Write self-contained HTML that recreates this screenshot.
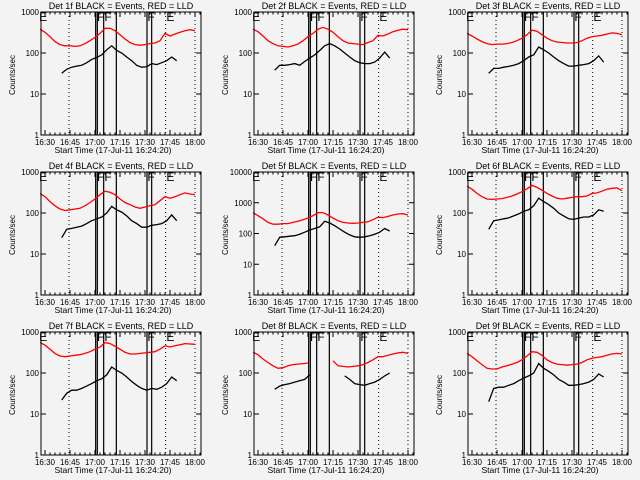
<!DOCTYPE html>
<html><head><meta charset="utf-8"><style>
body{margin:0;background:#f3f3f3;}
svg{display:block;font-family:"Liberation Sans",sans-serif;}
</style></head><body>
<svg id="chart" width="640" height="480" viewBox="0 0 640 480">
<rect width="640" height="480" fill="#f3f3f3"/>
</svg>
<script>
const tickLabels = ["16:30","16:45","17:00","17:15","17:30","17:45","18:00"];
const tickMinutes = [990,1005,1020,1035,1050,1065,1080];
const dottedMinutes = [1004.4,1062.4,1080];
const solidMinutes = [1020.4,1021.4,1025.2,1032.8,1051.2,1054];
const markTexts = ["E","F","F","F","E"];
const markMinutes = [986.5,1021.2,1025.6,1051.4,1062.8];
const redStart = 987, redStep = 3;
const blkStart = 1000, blkStep = 3;
const titles = ["Det 1f","Det 2f","Det 3f","Det 4f","Det 5f","Det 6f","Det 7f","Det 8f","Det 9f"];
const decades = [3,3,3,3,4,3,3,3,3];

const red1=[380,320,250,190,160,150,150,145,150,170,200,240,300,400,400,350,280,220,180,160,155,160,170,175,200,300,260,290,320,350,370,350];
const blk1=[32,40,45,48,50,58,70,78,90,120,150,115,100,80,65,50,45,46,55,52,58,65,80,65];
const red2=[380,330,260,200,170,150,145,140,150,165,200,250,300,380,420,380,320,250,200,175,170,165,160,180,200,270,260,290,330,360,380,370];
const blk2=[38,50,50,52,55,50,62,75,90,115,150,170,150,125,100,80,65,58,55,55,60,75,105,75];
const red3=[300,260,220,190,170,160,165,165,170,180,200,230,280,360,340,280,230,200,185,180,175,175,180,200,230,250,260,270,290,310,300,280];
const blk3=[32,42,42,45,47,50,55,65,80,90,140,120,100,80,65,55,48,48,50,52,55,65,85,60];
const red4=[300,250,190,150,125,115,120,125,130,150,180,220,280,340,320,280,220,180,160,140,130,140,150,160,200,250,230,250,280,310,290,280];
const blk4=[25,40,42,45,48,55,65,72,80,100,145,120,105,85,65,55,45,45,50,52,55,65,90,65];
const red5=[480,380,300,230,200,200,210,210,230,250,280,320,380,480,480,400,320,260,230,220,215,220,230,240,280,340,330,360,400,430,440,400];
const blk5=[40,75,78,82,85,95,110,130,145,165,250,220,180,140,110,90,78,75,78,85,95,110,145,120];
const red6=[450,380,300,250,220,215,220,225,240,260,290,330,390,470,420,360,300,260,230,220,230,240,250,250,260,300,310,340,380,400,410,350];
const blk6=[40,65,68,72,76,85,95,110,120,150,230,190,160,130,100,85,72,70,75,80,80,90,120,110];
const red7=[550,480,380,300,260,250,260,270,280,300,330,380,430,550,520,450,380,320,290,290,300,310,320,330,380,460,430,460,490,520,510,500];
const blk7=[22,32,38,38,42,48,55,65,72,90,140,115,100,80,62,50,42,38,42,40,45,55,80,65];
const red8=[320,280,220,180,150,130,135,150,160,165,170,175,null,null,null,null,200,150,145,140,145,150,160,180,210,250,250,270,290,310,320,300];
const blk8=[40,48,52,55,60,65,70,90,null,null,null,null,null,null,85,70,55,52,50,55,60,70,85,100];
const red9=[300,250,200,160,130,125,125,140,150,165,180,210,260,330,320,270,210,180,165,160,155,160,165,180,210,230,240,250,270,290,300,290];
const blk9=[20,42,45,45,50,55,65,75,85,100,170,130,110,90,70,60,50,50,52,55,60,70,95,80];
const reds=[red1,red2,red3,red4,red5,red6,red7,red8,red9];
const blks=[blk1,blk2,blk3,blk4,blk5,blk6,blk7,blk8,blk9];

const NS="http://www.w3.org/2000/svg";
const svg=document.getElementById('chart');
function mk(tag,attrs,parent){const e=document.createElementNS(NS,tag);for(const k in attrs)e.setAttribute(k,attrs[k]);(parent||svg).appendChild(e);return e;}

function drawPanel(p){
  const col=p%3,row=Math.floor(p/3);
  const ox=[0,213,427][col], oy=row*160;
  const L=ox+41,R=ox+201,T=oy+12,B=oy+135;
  const nd=decades[p];
  const xs=m=>ox+45+(m-990)*(150/90);
  const ys=v=>B-Math.log10(v)*(B-T)/nd;
  const g=mk('g',{});
  
  
  const t=mk('text',{x:(L+R)/2,y:oy+9,'font-size':'9','text-anchor':'middle',fill:'#000'},g);
  t.textContent=titles[p]+" BLACK = Events, RED = LLD";
  
  
  dottedMinutes.forEach(m=>{const l=mk('line',{x1:xs(m),x2:xs(m),y1:T,y2:B,stroke:'#000','stroke-width':1,'stroke-dasharray':'1,3'},g);
    
    });
  solidMinutes.forEach(m=>{const l=mk('line',{x1:xs(m),x2:xs(m),y1:T,y2:B,stroke:'#000','stroke-width':1.2},g);
    
    });
  markTexts.forEach((s,i)=>{const e=mk('text',{x:xs(markMinutes[i]),y:T+9,'font-size':'12',fill:'#000'},g);e.textContent=s;
    
    });
  function series(arr,start,step,color,name){
    let segs=[],cur=[];
    arr.forEach((v,i)=>{if(v==null){if(cur.length)segs.push(cur);cur=[];}else{const x=xs(start+i*step);cur.push(x.toFixed(1)+','+ys(v).toFixed(1));}});
    if(cur.length)segs.push(cur);
    segs.forEach(s=>{const pl=mk('polyline',{points:s.join(' '),fill:'none',stroke:color,'stroke-width':1.3},g);
      
      });
  }
  series(reds[p],redStart,redStep,'#ff0000','lld-series');
  series(blks[p],blkStart,blkStep,'#000000','events-series');
  const fr=mk('rect',{x:L,y:T,width:R-L,height:B-T,fill:'none',stroke:'#000','stroke-width':1},g);
  
  
  for(let m=987;m<=1083;m+=3){const x=xs(m);if(x<L||x>R)continue;const major=tickMinutes.includes(m);const len=major?5:2.5;
    mk('line',{x1:x,x2:x,y1:B,y2:B-len,stroke:'#000','stroke-width':1},g);mk('line',{x1:x,x2:x,y1:T,y2:T+len,stroke:'#000','stroke-width':1},g);}
  tickLabels.forEach((s,i)=>{const e=mk('text',{x:xs(tickMinutes[i]),y:B+10,'font-size':'8','text-anchor':'middle',fill:'#000'},g);e.textContent=s;
    
    });
  const xl=mk('text',{x:ox+113,y:B+18,'font-size':'8.5','text-anchor':'middle',fill:'#000'},g);
  xl.textContent="Start Time (17-Jul-11 16:24:20)";
  
  
  for(let d=0;d<=nd;d++){const y=ys(Math.pow(10,d));
    mk('line',{x1:L,x2:L+5,y1:y,y2:y,stroke:'#000'},g);mk('line',{x1:R,x2:R-5,y1:y,y2:y,stroke:'#000'},g);
    const e=mk('text',{x:L-2,y:y+3,'font-size':'8','text-anchor':'end',fill:'#000'},g);e.textContent=String(Math.pow(10,d));
    
    }
  const yl=mk('text',{x:0,y:0,'font-size':'8','text-anchor':'middle',fill:'#000',transform:`translate(${ox+15},${oy+75}) rotate(-90)`},g);
  yl.textContent="Counts/sec";
  
  
}
for(let p=0;p<9;p++)drawPanel(p);
</script>
</body></html>
